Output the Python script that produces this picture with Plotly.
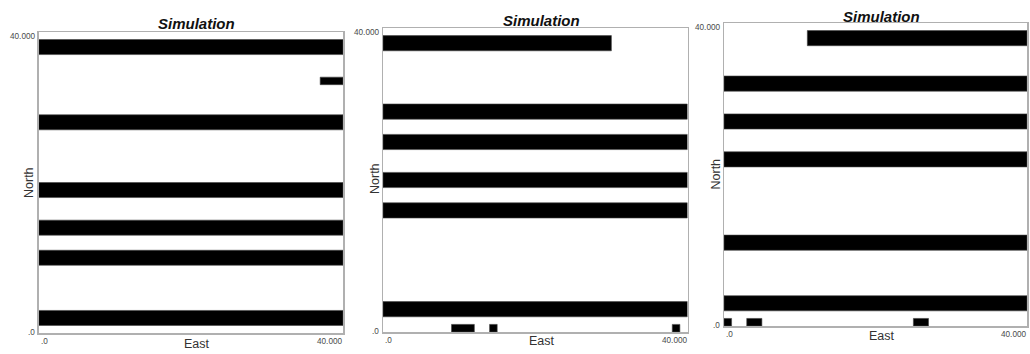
import plotly.graph_objects as go

W, H = 1030, 354

# ---------------- data (metres, grid of 40 x 40 km) ----------------
tick_values = [0, 40000]
tick_labels = [".0", "40.000"]
panel_title = "Simulation"
x_title = "East"
y_title = "North"

# panel 1
p1_east_start = [0, 37000, 0, 0, 0, 0, 0]
p1_east_end = [40000, 40000, 40000, 40000, 40000, 40000, 40000]
p1_north_low = [37000, 33000, 27000, 18000, 13000, 9000, 1000]
p1_north_high = [39000, 34000, 29000, 20000, 15000, 11000, 3000]

# panel 2
p2_east_start = [0, 0, 0, 0, 0, 0, 9000, 14000, 38000]
p2_east_end = [30000, 40000, 40000, 40000, 40000, 40000, 12000, 15000, 39000]
p2_north_low = [37000, 28000, 24000, 19000, 15000, 2000, 0, 0, 0]
p2_north_high = [39000, 30000, 26000, 21000, 17000, 4000, 1000, 1000, 1000]

# panel 3
p3_east_start = [11000, 0, 0, 0, 0, 0, 0, 3000, 25000]
p3_east_end = [40000, 40000, 40000, 40000, 40000, 40000, 1000, 5000, 27000]
p3_north_low = [37000, 31000, 26000, 21000, 10000, 2000, 0, 0, 0]
p3_north_high = [39000, 33000, 28000, 23000, 12000, 4000, 1000, 1000, 1000]

panels = [
    (p1_east_start, p1_east_end, p1_north_low, p1_north_high),
    (p2_east_start, p2_east_end, p2_north_low, p2_north_high),
    (p3_east_start, p3_east_end, p3_north_low, p3_north_high),
]

# ---------------- layout (pixel frames of each panel) ----------------
frames = [  # left, right, top, bottom in px
    (38.7, 343.0, 32.0, 333.0),
    (383.0, 687.5, 28.0, 332.0),
    (724.0, 1027.0, 23.0, 326.0),
]
title_pos = [(196.5, 23.5), (541.5, 21.0), (881.5, 16.5)]
east_pos = [(197.0, 344.0), (541.5, 341.0), (881.5, 335.5)]
north_pos = [(29.0, 183.0), (375.0, 179.0), (715.5, 174.0)]


def px(x):
    return x / W


def py(y):
    return 1 - y / H


fig = go.Figure()
FONT = "Liberation Sans, Arial, sans-serif"
TICK_FONT = dict(family=FONT, size=8.2, color="#4a4a4a")

layout = dict(
    width=W, height=H, margin=dict(l=0, r=0, t=0, b=0),
    paper_bgcolor="white", plot_bgcolor="white",
    showlegend=False, barmode="overlay", bargap=0,
)
annotations = []

for i, (xs, xe, yl, yh) in enumerate(panels):
    n = "" if i == 0 else str(i + 1)
    xa, ya = "x" + n, "y" + n
    fig.add_trace(go.Bar(
        orientation="h",
        y=[(a + b) / 2 for a, b in zip(yl, yh)],
        x=[b - a for a, b in zip(xs, xe)],
        base=xs,
        width=[b - a for a, b in zip(yl, yh)],
        marker=dict(color="black", line=dict(width=0.6, color="#444444")),
        xaxis=xa, yaxis=ya, hoverinfo="skip",
    ))
    l, r, t, b = frames[i]
    common = dict(range=[0, 40000], showgrid=False, zeroline=False,
                  showticklabels=False, ticks="", showline=True, mirror=True,
                  linecolor="#b0b0b0", linewidth=1.5, fixedrange=True)
    layout["xaxis" + n] = dict(domain=[px(l), px(r)], anchor=ya, **common)
    layout["yaxis" + n] = dict(domain=[py(b), py(t)], anchor=xa, **common)

    # tick labels tied to axis values
    annotations += [
        dict(x=tick_values[0], y=tick_values[0], xref=xa, yref=ya,
             text=tick_labels[0], showarrow=False, xanchor="right",
             yanchor="middle", xshift=-2, yshift=1, font=TICK_FONT),
        dict(x=tick_values[0], y=tick_values[1], xref=xa, yref=ya,
             text=tick_labels[1], showarrow=False, xanchor="right",
             yanchor="middle", xshift=-2, yshift=-4, font=TICK_FONT),
        dict(x=tick_values[0], y=tick_values[0], xref=xa, yref=ya,
             text=tick_labels[0], showarrow=False, xanchor="left",
             yanchor="top", xshift=0, yshift=-2, font=TICK_FONT),
        dict(x=tick_values[1], y=tick_values[0], xref=xa, yref=ya,
             text=tick_labels[1], showarrow=False, xanchor="right",
             yanchor="top", xshift=1, yshift=-2, font=TICK_FONT),
    ]
    tx, ty = title_pos[i]
    annotations.append(dict(x=px(tx), y=py(ty), xref="paper", yref="paper",
                            text="<b><i>" + panel_title + "</i></b>",
                            showarrow=False, xanchor="center", yanchor="middle",
                            font=dict(family=FONT, size=15, color="#111111")))
    ex, ey = east_pos[i]
    annotations.append(dict(x=px(ex), y=py(ey), xref="paper", yref="paper",
                            text=x_title, showarrow=False, xanchor="center",
                            yanchor="middle",
                            font=dict(family=FONT, size=12.5, color="#333333")))
    nx, ny = north_pos[i]
    annotations.append(dict(x=px(nx), y=py(ny), xref="paper", yref="paper",
                            text=y_title, showarrow=False, textangle=-90,
                            xanchor="center", yanchor="middle",
                            font=dict(family=FONT, size=12.5, color="#333333")))

layout["annotations"] = annotations
fig.update_layout(**layout)
fig.write_html(
    "out.html",
    config={"displayModeBar": False, "staticPlot": True},
    post_script="document.body.style.margin='0';document.body.style.overflow='hidden';",
)
